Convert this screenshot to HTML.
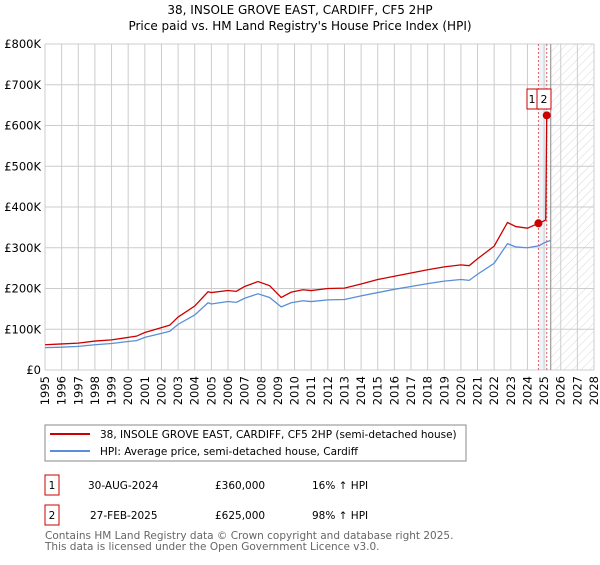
<!DOCTYPE html>
<html><head><meta charset="utf-8"><style>
body{margin:0;background:#fff;}
svg text{font-family:"DejaVu Sans","Liberation Sans",sans-serif;}
</style></head><body>
<svg width="600" height="560" xmlns="http://www.w3.org/2000/svg">
<defs><pattern id="hatch" width="6" height="6" patternUnits="userSpaceOnUse" patternTransform="rotate(45)"><line x1="0" y1="0" x2="0" y2="6" stroke="#d8d8d8" stroke-width="1"/></pattern></defs>
<text x="300" y="14" text-anchor="middle" font-size="12">38, INSOLE GROVE EAST, CARDIFF, CF5 2HP</text>
<text x="300" y="30" text-anchor="middle" font-size="12">Price paid vs. HM Land Registry's House Price Index (HPI)</text>
<g id="plot"></g>
<g>
<rect x="45" y="425" width="421" height="36" fill="#fff" stroke="#888"/>
<line x1="50" y1="434" x2="90" y2="434" stroke="#cc0000" stroke-width="2"/>
<text x="100" y="438" font-size="10.5">38, INSOLE GROVE EAST, CARDIFF, CF5 2HP (semi-detached house)</text>
<line x1="50" y1="451" x2="90" y2="451" stroke="#5b8ed6" stroke-width="2"/>
<text x="100" y="455" font-size="10.5">HPI: Average price, semi-detached house, Cardiff</text>
</g>
<g font-size="10.5">
<rect x="45" y="475" width="14" height="20" fill="none" stroke="#cc0000"/><text x="52" y="489" text-anchor="middle">1</text>
<text x="88" y="489">30-AUG-2024</text><text x="215" y="489">£360,000</text><text x="312" y="489">16% ↑ HPI</text>
<rect x="45" y="505" width="14" height="20" fill="none" stroke="#cc0000"/><text x="52" y="519" text-anchor="middle">2</text>
<text x="90" y="519">27-FEB-2025</text><text x="215" y="519">£625,000</text><text x="312" y="519">98% ↑ HPI</text>
</g>
<text x="45" y="539" font-size="10.5" fill="#666">Contains HM Land Registry data © Crown copyright and database right 2025.</text>
<text x="45" y="550" font-size="10.5" fill="#666">This data is licensed under the Open Government Licence v3.0.</text>
</svg>
<script>
const yTicks=[0,100,200,300,400,500,600,700,800];
const yTickLabels=["£0","£100K","£200K","£300K","£400K","£500K","£600K","£700K","£800K"];
const xYears=[1995,1996,1997,1998,1999,2000,2001,2002,2003,2004,2005,2006,2007,2008,2009,2010,2011,2012,2013,2014,2015,2016,2017,2018,2019,2020,2021,2022,2023,2024,2025,2026,2027,2028];
const hpiT=[1995,1996,1997,1998,1999,2000,2000.5,2001,2002,2002.5,2003,2004,2004.8,2005,2006,2006.5,2007,2007.8,2008.5,2009.2,2009.8,2010.5,2011,2012,2013,2014,2015,2016,2017,2018,2019,2020,2020.5,2021,2022,2022.8,2023.3,2024,2024.7,2025,2025.4];
const hpiV=[55,56,58,62,65,70,72,80,90,95,112,135,165,162,168,166,176,187,178,155,165,170,168,172,173,182,190,198,205,212,218,222,220,235,262,310,302,300,305,312,318];
const propT=[1995,1996,1997,1998,1999,2000,2000.5,2001,2002,2002.5,2003,2004,2004.8,2005,2006,2006.5,2007,2007.8,2008.5,2009.2,2009.8,2010.5,2011,2012,2013,2014,2015,2016,2017,2018,2019,2020,2020.5,2021,2022,2022.8,2023.3,2024,2024.66,2025.1,2025.16];
const propV=[62,64,66,71,74,80,83,92,104,110,130,157,192,190,195,193,205,217,207,178,191,197,195,200,201,211,222,230,238,246,253,258,256,273,304,362,352,348,360,368,625];
const saleT=[2024.66,2025.16];
const saleV=[360,625];
const saleLabels=["1","2"];

const L=45,R=594,T=44,B=370,X0=1995,X1=2028,YMAX=800;
const xs=t=>L+(t-X0)/(X1-X0)*(R-L);
const ys=v=>B-v/YMAX*(B-T);
const NS="http://www.w3.org/2000/svg";
const g=document.getElementById('plot');
function mk(tag,attrs,parent){const e=document.createElementNS(NS,tag);for(const k in attrs)e.setAttribute(k,attrs[k]);(parent||g).appendChild(e);return e;}
const band=mk('rect',{x:xs(saleT[0]),y:T,width:xs(saleT[1])-xs(saleT[0]),height:B-T,fill:'#e8f0fa',opacity:0.7});


const fut=mk('rect',{x:xs(2025.4),y:T,width:R-xs(2025.4),height:B-T,fill:'url(#hatch)'});


xYears.forEach(y=>{const l=mk('line',{x1:xs(y),x2:xs(y),y1:T,y2:B,stroke:'#ccc'});


const t=mk('text',{transform:`translate(${xs(y)+4},${B+6}) rotate(-90)`,'text-anchor':'end','font-size':'11.5'});t.textContent=y;

});
yTicks.forEach((v,i)=>{const l=mk('line',{x1:L,x2:R,y1:ys(v),y2:ys(v),stroke:'#ccc'});


const t=mk('text',{x:L-4,y:ys(v)+4,'text-anchor':'end','font-size':'11.5'});t.textContent=yTickLabels[i];

});
mk('line',{x1:xs(2025.4),x2:xs(2025.4),y1:T,y2:B,stroke:'#888'});
saleT.forEach(t=>{const l=mk('line',{x1:xs(t),x2:xs(t),y1:T,y2:B,stroke:'#e06060','stroke-dasharray':'2,2'});

});
const hp=mk('polyline',{points:hpiT.map((t,i)=>xs(t)+','+ys(hpiV[i])).join(' '),fill:'none',stroke:'#5b8ed6','stroke-width':1.3});


const pp=mk('polyline',{points:propT.map((t,i)=>xs(t)+','+ys(propV[i])).join(' '),fill:'none',stroke:'#cc0000','stroke-width':1.3});


saleT.forEach((t,i)=>{const c=mk('circle',{cx:xs(t),cy:ys(saleV[i]),r:4,fill:'#cc0000'});

});
saleT.forEach((t,i)=>{const bx=i===0?527:537;const w=i===0?10:14;
const r=mk('rect',{x:bx,y:89,width:w,height:20,fill:'#fff',stroke:'#cc0000'});


const tx=mk('text',{x:bx+w/2,y:103,'text-anchor':'middle','font-size':'11'});tx.textContent=saleLabels[i];

});
</script>
</body></html>
